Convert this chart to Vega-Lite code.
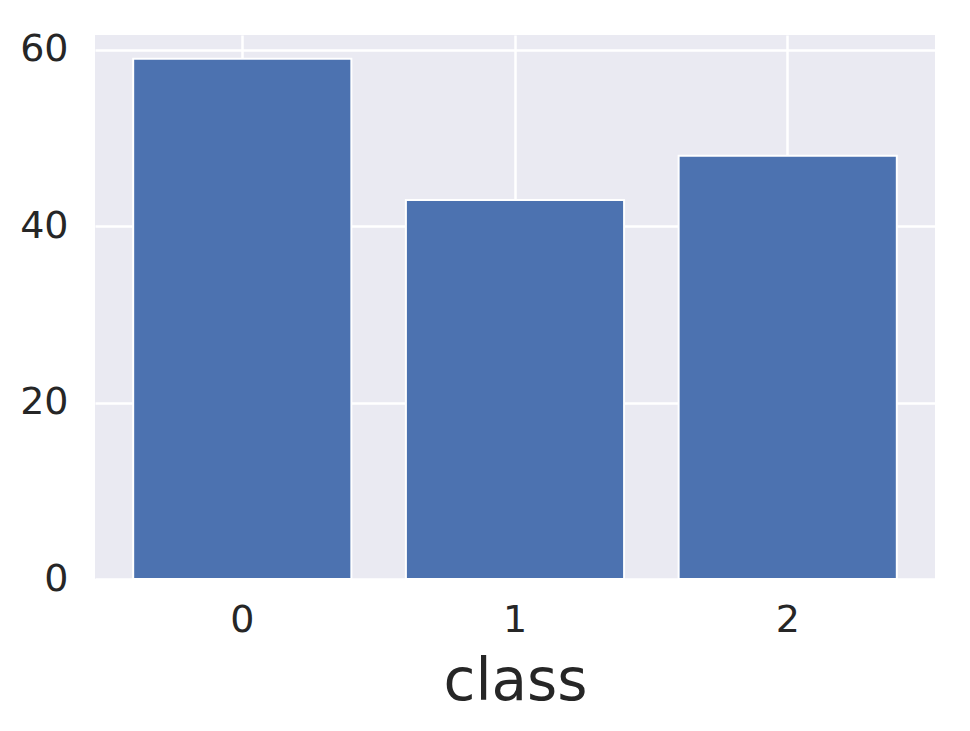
{
  "$schema": "https://vega.github.io/schema/vega-lite/v6.json",
  "autosize": {"type": "none"},
  "padding": {"left": 95, "top": 35, "right": 35, "bottom": 152},
  "width": 840,
  "height": 544,
  "background": "white",
  "config": {
    "view": {"fill": "#EAEAF2", "stroke": null},
    "font": "DejaVu Sans"
  },
  "data": {"values": [
    {"class": "0", "count": 59},
    {"class": "1", "count": 43},
    {"class": "2", "count": 48}
  ]},
  "mark": {"type": "bar", "color": "#4C72B0", "stroke": "white", "strokeWidth": 2},
  "encoding": {
    "x": {
      "field": "class", "type": "nominal",
      "scale": {"paddingInner": 0.2, "paddingOuter": 0.14},
      "axis": {
        "labelAngle": 0, "grid": true, "gridColor": "white", "gridWidth": 2.5,
        "bandPosition": 0.5, "domain": false, "ticks": false,
        "labelFontSize": 38, "labelColor": "#262626", "labelPadding": 22,
        "title": "class", "titleFontSize": 58, "titleFontWeight": "normal",
        "titleColor": "#262626", "titlePadding": 14
      }
    },
    "y": {
      "field": "count", "type": "quantitative",
      "scale": {"domain": [0, 61.7], "nice": false},
      "axis": {
        "values": [0, 20, 40, 60], "grid": true, "gridColor": "white", "gridWidth": 2.5,
        "domain": false, "ticks": false, "title": null,
        "labelFontSize": 38, "labelColor": "#262626", "labelPadding": 27
      }
    }
  }
}
